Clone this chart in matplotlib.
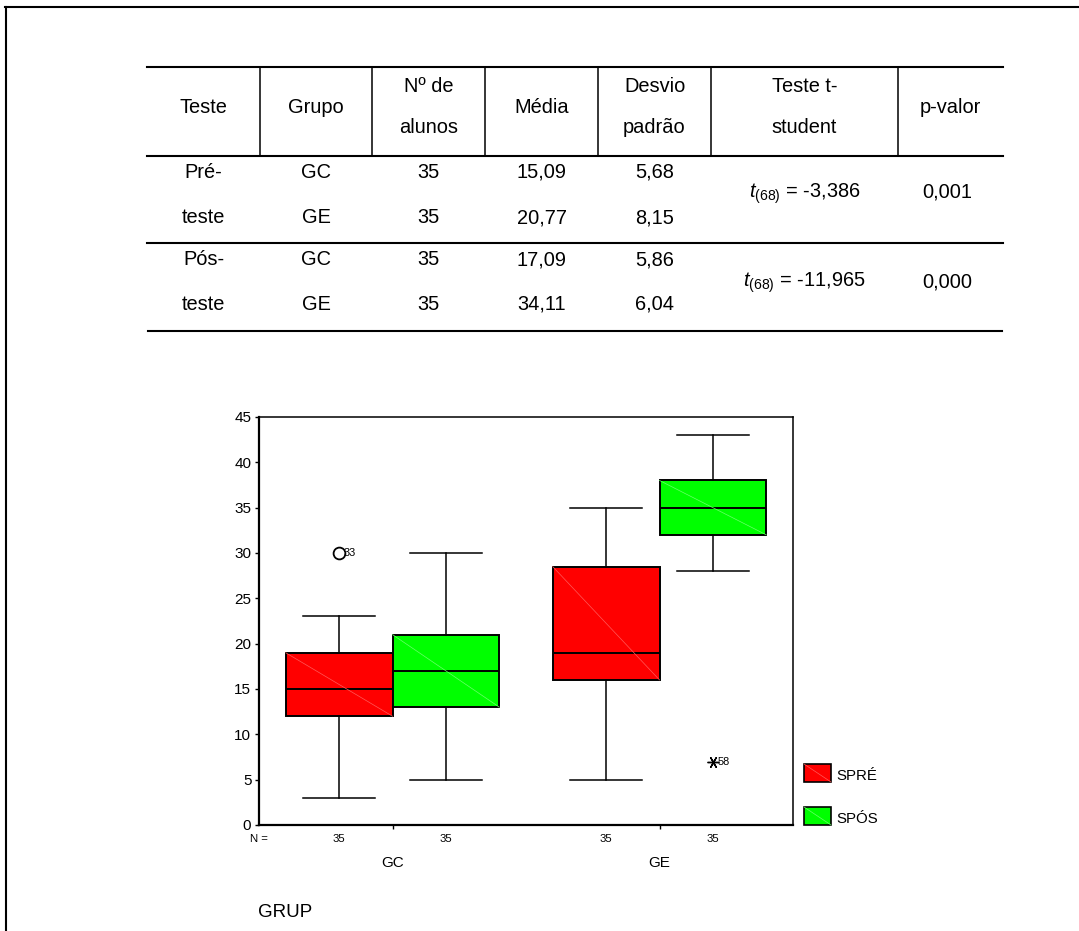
import matplotlib
matplotlib.use('Agg')
from matplotlib import pyplot as plt
from matplotlib.patches import Rectangle
from matplotlib.transforms import blended_transform_factory


plt.rcParams['font.family'] = ['Liberation Sans', 'DejaVu Sans']
plt.rcParams['mathtext.fontset'] = 'custom'
plt.rcParams['mathtext.rm'] = 'Liberation Sans'
plt.rcParams['mathtext.it'] = 'Liberation Sans:italic'

W, H = 1079, 931

# tabela: teste t para os dois momentos
cabecalho = [['Teste'], ['Grupo'], ['Nº de', 'alunos'], ['Média'],
             ['Desvio', 'padrão'], ['Teste t-', 'student'], ['p-valor']]
teste = ['Pré-', 'teste', 'Pós-', 'teste']
grupo = ['GC', 'GE', 'GC', 'GE']
n_alunos = [35, 35, 35, 35]
media = [15.09, 20.77, 17.09, 34.11]
desvio = [5.68, 8.15, 5.86, 6.04]
t_gl = [68, 68]
t_valor = [-3.386, -11.965]
p_valor = [0.001, 0.000]

# boxplot: SPRÉ e SPÓS por grupo (GC, GE)
grupos = ['GC', 'GE']
series = ['SPRÉ', 'SPÓS']
pre_min = [3, 5]
pre_q1 = [12, 16]
pre_med = [15, 19]
pre_q3 = [19, 28.5]
pre_max = [23, 35]
pos_min = [5, 28]
pos_q1 = [13, 32]
pos_med = [17, 35]
pos_q3 = [21, 38]
pos_max = [30, 43]
n_pre = [35, 35]
n_pos = [35, 35]
# valores atipicos (o) e extremos (*) com o numero do caso
pre_outlier = [[30], []]
pre_outlier_caso = [[33], []]
pos_extremo = [[], [7]]
pos_extremo_caso = [[], [58]]

cores = ['#ff0000', '#00ff00']
diagonais = ['#ff5a5a', '#6cff6c']


def virgula(v, casas):
    return f'{v:.{casas}f}'.replace('.', ',')


def desenha_tabela(pg):
    bordas = [147, 260, 372, 485, 598, 711, 898, 1003]
    centros = [(a + b) / 2 for a, b in zip(bordas[:-1], bordas[1:])]
    fs = 14.4

    # linhas horizontais
    for y in (67, 156, 243):
        pg.plot([bordas[0], bordas[-1]], [y, y], color='black', lw=1.5)
    for a, b in zip(bordas[:-1], bordas[1:]):
        pg.plot([a + 1, b - 1], [331, 331], color='black', lw=1.5)
    # divisorias do cabecalho
    for x in bordas[1:-1]:
        pg.plot([x, x], [67, 156], color='black', lw=1.1)

    for cx, linhas in zip(centros, cabecalho):
        if len(linhas) == 1:
            pg.text(cx, 113, linhas[0], ha='center', va='baseline', fontsize=fs)
        else:
            pg.text(cx, 92, linhas[0], ha='center', va='baseline', fontsize=fs)
            pg.text(cx, 133, linhas[1], ha='center', va='baseline', fontsize=fs)

    bases = [178, 223, 265, 310]
    for i, y in enumerate(bases):
        pg.text(centros[0], y, teste[i], ha='center', va='baseline', fontsize=fs)
        pg.text(centros[1], y, grupo[i], ha='center', va='baseline', fontsize=fs)
        pg.text(centros[2], y, str(n_alunos[i]), ha='center', va='baseline', fontsize=fs)
        pg.text(centros[3], y, virgula(media[i], 2), ha='center', va='baseline', fontsize=fs)
        pg.text(centros[4], y, virgula(desvio[i], 2), ha='center', va='baseline', fontsize=fs)

    for j, y in enumerate([198, 287]):
        txt = r'$t_{\mathrm{(%d)}}$ = %s' % (t_gl[j], virgula(t_valor[j], 3))
        pg.text(centros[5], y, txt, ha='center', va='baseline', fontsize=fs)
        pg.text(centros[6] - 3, y, virgula(p_valor[j], 3), ha='center', va='baseline', fontsize=fs)


def desenha_boxplot(fig):
    esq, dir_, topo, base = 259, 793, 417, 825
    ax = fig.add_axes([esq / W, 1 - base / H, (dir_ - esq) / W, (base - topo) / H])
    ax.set_xlim(0, 2)
    ax.set_ylim(0, 45)

    largura = 0.4
    dados = [
        (pre_min, pre_q1, pre_med, pre_q3, pre_max, pre_outlier, -0.2),
        (pos_min, pos_q1, pos_med, pos_q3, pos_max, [[], []], 0.2),
    ]
    for s, (lo, q1, med, q3, hi, out, desl) in enumerate(dados):
        stats = []
        pos = []
        for g in range(len(grupos)):
            stats.append({'whislo': lo[g], 'q1': q1[g], 'med': med[g], 'q3': q3[g],
                          'whishi': hi[g], 'fliers': out[g]})
            pos.append(g + 0.5 + desl)
        ax.bxp(stats, positions=pos, widths=largura, capwidths=0.27,
               patch_artist=True, manage_ticks=False,
               boxprops=dict(facecolor=cores[s], edgecolor='black', linewidth=1.4),
               medianprops=dict(color='black', linewidth=1.4),
               whiskerprops=dict(color='black', linewidth=1.1),
               capprops=dict(color='black', linewidth=1.1),
               flierprops=dict(marker='o', markersize=8.5, markerfacecolor='none',
                               markeredgecolor='black', markeredgewidth=1.3))
        # traço diagonal dentro da caixa
        for g in range(len(grupos)):
            ax.plot([pos[g] - largura / 2, pos[g] + largura / 2], [q3[g], q1[g]],
                    color=diagonais[s], lw=0.5, zorder=2.5)

    # numeros dos casos
    for g in range(len(grupos)):
        for v, caso in zip(pre_outlier[g], pre_outlier_caso[g]):
            ax.annotate(str(caso), xy=(g + 0.3, v), xytext=(3.5, 0),
                        textcoords='offset points', va='center', fontsize=7.8)
        for v, caso in zip(pos_extremo[g], pos_extremo_caso[g]):
            ax.plot(g + 0.7, v, marker=(6, 2, 90), markersize=8.5, color='black',
                    markeredgewidth=1.0, linestyle='none')
            ax.annotate(str(caso), xy=(g + 0.7, v), xytext=(3.5, 0),
                        textcoords='offset points', va='center', fontsize=7.8)

    ax.set_yticks(range(0, 50, 5))
    ax.set_xticks([0.5, 1.5])
    ax.set_xticklabels([])
    ax.tick_params(axis='both', direction='out', length=3, width=1, colors='black',
                   labelsize=11, pad=2.5)
    for lado in ('left', 'bottom'):
        ax.spines[lado].set_linewidth(1.6)
    for lado in ('top', 'right'):
        ax.spines[lado].set_linewidth(1.1)

    trans = blended_transform_factory(ax.transData, ax.transAxes)
    y_n = -(842 - base) / (base - topo)
    y_g = -(867 - base) / (base - topo)
    ax.text(0, y_n, 'N =', transform=trans, ha='center', va='baseline', fontsize=8.2)
    for g in range(len(grupos)):
        ax.text(g + 0.3, y_n, str(n_pre[g]), transform=trans, ha='center', va='baseline', fontsize=8.2)
        ax.text(g + 0.7, y_n, str(n_pos[g]), transform=trans, ha='center', va='baseline', fontsize=8.2)
        ax.text(g + 0.5, y_g, grupos[g], transform=trans, ha='center', va='baseline', fontsize=11)
    return ax


def desenha_legenda(pg):
    for i, (nome, y0) in enumerate(zip(series, [764, 807])):
        pg.add_patch(Rectangle((804, y0), 27, 18, facecolor=cores[i], edgecolor='black', lw=1.2))
        pg.plot([804, 831], [y0, y0 + 18], color=diagonais[i], lw=0.5)
        pg.text(836, y0 + 16, nome, va='baseline', fontsize=10.8)


def main():
    fig = plt.figure(figsize=(W / 100, H / 100), dpi=100)
    pg = fig.add_axes([0, 0, 1, 1])
    pg.set_xlim(0, W)
    pg.set_ylim(H, 0)
    pg.axis('off')

    # moldura da pagina
    pg.plot([5, W], [7, 7], color='black', lw=1.5)
    pg.plot([6, 6], [7, H], color='black', lw=1.5)

    desenha_tabela(pg)
    desenha_boxplot(fig)
    desenha_legenda(pg)
    pg.text(258, 917, 'GRUP', va='baseline', fontsize=13.5)

    fig.savefig('out.png', dpi=100)


if __name__ == '__main__':
    main()
